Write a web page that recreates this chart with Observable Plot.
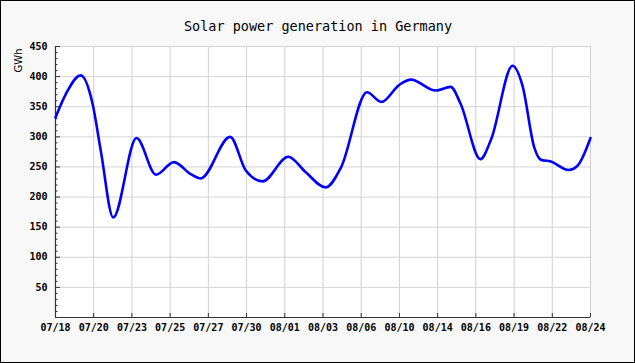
<!DOCTYPE html>
<html>
<head>
<meta charset="utf-8">
<script src="https://cdn.jsdelivr.net/npm/d3@7"></script>
<script src="https://cdn.jsdelivr.net/npm/@observablehq/plot@0.6"></script>
<style>
  html, body { margin: 0; padding: 0; background: #f8f8f8; }
  #wrap { position: relative; width: 635px; height: 363px; background: #f8f8f8; overflow: hidden; }
  #wrap svg { position: absolute; left: 0; top: 0; }
  #border { position: absolute; left: 0; top: 0; width: 635px; height: 363px; box-sizing: border-box; border: 1px solid #000; pointer-events: none; }
</style>
</head>
<body>
<div id="wrap"><div id="border"></div></div>
<script>
// Tick labels along the (evenly spaced) date axis
const dateLabels = ["07/18","07/20","07/23","07/25","07/27","07/30","08/01","08/03","08/06","08/10","08/14","08/16","08/19","08/22","08/24"];
// Position along the date axis, in tick-interval units (0 = 07/18, 14 = 08/24)
const pos = [0, 0.27, 0.66, 0.97, 1.19, 1.51, 2.12, 2.63, 3.10, 3.54, 3.80, 4.57, 4.98, 5.42, 6.09, 6.55, 7.07, 7.47, 8.15, 8.53, 8.99, 9.30, 9.95, 10.34, 10.60, 11.12, 11.40, 11.96, 12.22, 12.53, 12.70, 12.96, 13.43, 13.66, 14.0];
// Solar generation, GWh
const gwh = [332, 371, 402, 355, 275, 166, 298, 237, 258, 238, 231, 300, 244, 226, 267, 241, 216, 249, 374, 358, 386, 395, 377, 383, 355, 263, 296, 418, 385, 282, 262, 259, 245, 252, 298];
const yTicks = [50, 100, 150, 200, 250, 300, 350, 400, 450];
const yMinor = d3.range(10, 450, 10).filter(v => v % 50 !== 0);

const data = pos.map((p, i) => ({pos: p, gwh: gwh[i]}));
const xTicks = dateLabels.map((d, i) => i);

const chart = Plot.plot({
  width: 635,
  height: 363,
  marginLeft: 55,
  marginRight: 45,
  marginTop: 46,
  marginBottom: 46,
  style: {background: "transparent", fontFamily: "DejaVu Sans Mono", fontSize: "10px", fontWeight: "bold", color: "#000", overflow: "visible"},
  x: {domain: [0, 14], axis: null, label: null},
  y: {domain: [0, 450], axis: null, label: null},
  marks: [
    Plot.frame({fill: "#ffffff", stroke: "#d4d4d4"}),
    Plot.gridX(xTicks, {stroke: "#d0d0d0", strokeOpacity: 1}),
    Plot.gridY(yTicks, {stroke: "#d4d4d4", strokeOpacity: 1}),
    Plot.axisY(yMinor, {anchor: "left", tickSize: -2.5, text: null, stroke: "#333", label: null}),
    Plot.axisY(yTicks, {anchor: "left", tickSize: -5, text: null, stroke: "#333", label: null}),
    Plot.axisY(yTicks, {anchor: "left", tickSize: 0, tickPadding: 8, tickFormat: d => String(d), fill: "#000", fontWeight: "bold", label: null}),
    Plot.axisX(xTicks, {anchor: "bottom", tickSize: -4, text: null, stroke: "#333", label: null}),
    Plot.axisX(xTicks, {anchor: "bottom", tickSize: 0, tickPadding: 6, tickFormat: i => dateLabels[i], fill: "#000", fontWeight: "bold", label: null}),
    Plot.ruleX([0], {stroke: "#333", strokeWidth: 1.2}),
    Plot.ruleY([0], {stroke: "#333", strokeWidth: 1.2}),
    Plot.line(data, {x: "pos", y: "gwh", curve: "monotone-x", stroke: "#0000ff", strokeWidth: 2.6}),
    Plot.text(["Solar power generation in Germany"], {frameAnchor: "top", dx: -5, dy: -20, fontSize: 13.5, fontWeight: "normal", fontFamily: "DejaVu Sans Mono", fill: "#000", lineAnchor: "middle"}),
    Plot.text(["GWh"], {frameAnchor: "top-left", dx: -41, dy: 2, rotate: -90, textAnchor: "end", fontSize: 10, fontWeight: "normal", fontFamily: "DejaVu Sans", fill: "#000"})
  ]
});
document.getElementById("wrap").prepend(chart);
</script>
</body>
</html>
